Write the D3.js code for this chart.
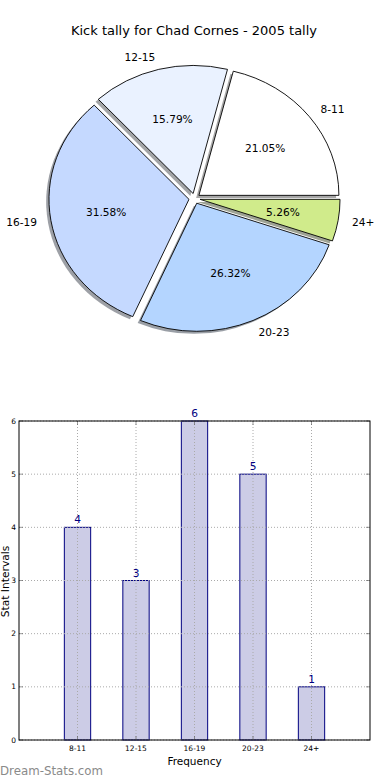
<!DOCTYPE html>
<html><head><meta charset="utf-8">
<script src="https://cdn.jsdelivr.net/npm/d3@7/dist/d3.min.js"></script>
<style>
html,body{margin:0;padding:0;background:#fff;}
svg{display:block;font-family:"DejaVu Sans",sans-serif;}
</style></head>
<body>
<script>
const title = "Kick tally for Chad Cornes - 2005 tally";
const categories = ["8-11", "12-15", "16-19", "20-23", "24+"];
const values = [4, 3, 6, 5, 1];
const sliceColors = ["#ffffff", "#eaf2ff", "#c5d9ff", "#b4d5ff", "#d0eb8b"];
const yTicks = [0, 1, 2, 3, 4, 5, 6];
const xLabel = "Frequency";
const yLabel = "Stat Intervals";
const watermark = "Dream-Stats.com";

const W = 390, H = 780;
const svg = d3.select("body").append("svg").attr("width", W).attr("height", H);

// ---------- Title ----------
svg.append("text").attr("x", 194).attr("y", 35).attr("text-anchor", "middle")
  .attr("font-size", 13).attr("fill", "#000").text(title);

// ---------- Pie ----------
const cx = 194.5, cy = 198.5, R = 140, yScale = 0.915;
const explode = 0.04 * R, shadowOff = 0.02 * R;
const total = d3.sum(values);
const pie = d3.pie().sort(null).value(d => d).startAngle(Math.PI / 2).endAngle(Math.PI / 2 - 2 * Math.PI);
const arcs = pie(values);
const arc = d3.arc().innerRadius(0).outerRadius(R);
const pieG = svg.append("g").attr("transform", `translate(${cx},${cy}) scale(1,${yScale})`);

arcs.forEach((a, i) => {
  const mid = (a.startAngle + a.endAngle) / 2;
  const ux = Math.sin(mid), uy = -Math.cos(mid);
  const ox = ux * explode, oy = uy * explode;
  const c = d3.rgb(sliceColors[i]);
  pieG.append("path").attr("d", arc(a))
    .attr("transform", `translate(${ox - shadowOff},${oy + shadowOff})`)
    .attr("fill", d3.rgb(c.r * 0.3, c.g * 0.3, c.b * 0.3)).attr("fill-opacity", 0.5)
    .attr("stroke", "none");
  pieG.append("path").attr("d", arc(a))
    .attr("transform", `translate(${ox},${oy})`)
    .attr("fill", sliceColors[i]).attr("stroke", "#000").attr("stroke-width", 0.9)
    .attr("vector-effect", "non-scaling-stroke").attr("stroke-linejoin", "miter");
});

arcs.forEach((a, i) => {
  const mid = (a.startAngle + a.endAngle) / 2;
  const ux = Math.sin(mid), uy = -Math.cos(mid);
  const bx = cx + ux * explode, by = cy + uy * explode * yScale;
  const lx = bx + ux * 1.1 * R, ly = by + uy * 1.1 * R * yScale;
  svg.append("text").attr("x", lx).attr("y", ly).attr("dy", "0.35em")
    .attr("text-anchor", ux > 0 ? "start" : "end")
    .attr("font-size", 10.6).attr("fill", "#000").text(categories[i]);
  const px = bx + ux * 0.6 * R, py = by + uy * 0.6 * R * yScale;
  svg.append("text").attr("x", px).attr("y", py).attr("dy", "0.35em")
    .attr("text-anchor", "middle").attr("font-size", 10.6).attr("fill", "#000")
    .text((values[i] / total * 100).toFixed(2) + "%");
});

// ---------- Bar chart ----------
const L = 19, Rt = 370, T = 421, B = 740;
const x = d3.scaleLinear().domain([0, 6]).range([L, Rt]);
const y = d3.scaleLinear().domain([0, 6]).range([B, T]);
const barW = 0.45;
const bg = svg.append("g");

// bars
bg.selectAll("rect.bar").data(values).enter().append("rect")
  .attr("x", (d, i) => x(i + 1 - barW / 2)).attr("width", x(barW) - x(0))
  .attr("y", d => y(d)).attr("height", d => y(0) - y(d))
  .attr("fill", "#cccce6").attr("stroke", "#000080").attr("stroke-width", 1);

// grid
yTicks.forEach(t => {
  bg.append("line").attr("x1", L).attr("x2", Rt).attr("y1", y(t)).attr("y2", y(t))
    .attr("stroke", "#aaaaaa").attr("stroke-width", 1).attr("stroke-dasharray", "1,2");
});
categories.forEach((c, i) => {
  bg.append("line").attr("x1", x(i + 1)).attr("x2", x(i + 1)).attr("y1", T).attr("y2", B)
    .attr("stroke", "#aaaaaa").attr("stroke-width", 1).attr("stroke-dasharray", "1,2");
});

// ticks (inside, all sides)
yTicks.forEach(t => {
  bg.append("line").attr("x1", L).attr("x2", L + 4).attr("y1", y(t)).attr("y2", y(t)).attr("stroke", "#555").attr("stroke-width", 0.6);
  bg.append("line").attr("x1", Rt - 4).attr("x2", Rt).attr("y1", y(t)).attr("y2", y(t)).attr("stroke", "#555").attr("stroke-width", 0.6);
});
categories.forEach((c, i) => {
  bg.append("line").attr("x1", x(i + 1)).attr("x2", x(i + 1)).attr("y1", B - 4).attr("y2", B).attr("stroke", "#555").attr("stroke-width", 0.6);
  bg.append("line").attr("x1", x(i + 1)).attr("x2", x(i + 1)).attr("y1", T).attr("y2", T + 4).attr("stroke", "#555").attr("stroke-width", 0.6);
});

// frame
bg.append("rect").attr("x", L).attr("y", T).attr("width", Rt - L).attr("height", B - T)
  .attr("fill", "none").attr("stroke", "#000").attr("stroke-width", 1);

// tick labels
bg.selectAll("text.yt").data(yTicks).enter().append("text")
  .attr("x", L - 3).attr("y", d => y(d)).attr("dy", "0.35em").attr("text-anchor", "end")
  .attr("font-size", 7.5).attr("fill", "#000").text(d => d);
bg.selectAll("text.xt").data(categories).enter().append("text")
  .attr("x", (d, i) => x(i + 1)).attr("y", B + 11).attr("text-anchor", "middle")
  .attr("font-size", 7.5).attr("fill", "#000").text(d => d);

// value labels
bg.selectAll("text.val").data(values).enter().append("text")
  .attr("x", (d, i) => x(i + 1)).attr("y", d => y(d) - 4).attr("text-anchor", "middle")
  .attr("font-size", 10.6).attr("fill", "#000080").text(d => d);

// axis labels
svg.append("text").attr("x", x(3)).attr("y", 765).attr("text-anchor", "middle")
  .attr("font-size", 10.5).attr("fill", "#000").text(xLabel);
svg.append("text").attr("transform", `translate(8.5,${(T + B) / 2 + 1}) rotate(-90)`)
  .attr("text-anchor", "middle").attr("font-size", 10.7).attr("fill", "#000").text(yLabel);

// watermark
svg.append("text").attr("x", 0).attr("y", 775).attr("font-size", 11.8)
  .attr("fill", "#8a8a8a").text(watermark);
</script>
</body></html>
